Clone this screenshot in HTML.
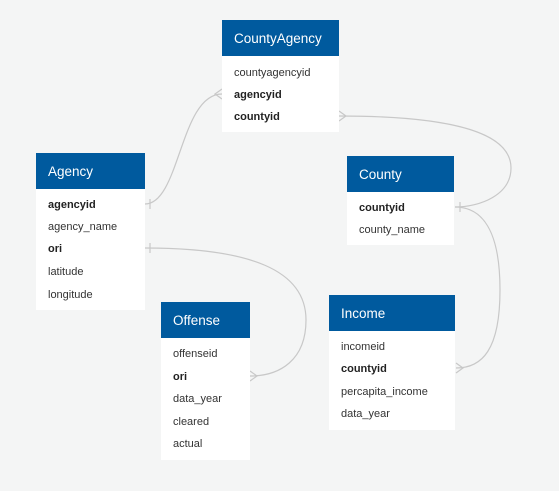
<!DOCTYPE html>
<html><head><meta charset="utf-8"><style>
body{margin:0;width:559px;height:491px;background:#f4f5f5;position:relative;overflow:hidden;font-family:"Liberation Sans",Arial,sans-serif}
.t{position:absolute;background:#fff}
.h{background:#005a9e;color:#fff;font-size:13.5px;height:36px;line-height:37px;padding-left:12px;box-sizing:border-box}
.r{position:absolute;left:12px;font-size:11px;color:#333;line-height:14px;margin-top:1px}
.b{font-weight:bold;color:#222}
svg{position:absolute;left:0;top:0}
</style></head><body>
<svg width="559" height="491" fill="none" stroke="#c8c8c8" stroke-width="1.2">
<path d="M145,204 C180,204 180,94 222,94"/>
<path d="M339,116 C460,116 511,135 511,168 C511,195 480,207 455,207"/>
<path d="M455,207 C482,207 500,230 500,290 C500,350 482,368 456,368"/>
<path d="M145,248 C250,248 306,270 306,320 C306,360 280,376 250,376"/>
<path d="M150,199 V209 M150,243 V253 M460,202 V212"/>
<path d="M222,89 L215,94 L222,99 M339,111 L346,116 L339,121 M250,371 L257,376 L250,381 M456,363 L463,368 L456,373"/>
</svg>
<div class="t" style="left:222px;top:20px;width:117px;height:112px"><div class="h">CountyAgency</div>
<div class="r" style="top:45px">countyagencyid</div><div class="r b" style="top:67px">agencyid</div><div class="r b" style="top:89px">countyid</div></div>
<div class="t" style="left:36px;top:153px;width:109px;height:157px"><div class="h">Agency</div>
<div class="r b" style="top:44px">agencyid</div><div class="r" style="top:66px">agency_name</div><div class="r b" style="top:88px">ori</div><div class="r" style="top:111px">latitude</div><div class="r" style="top:134px">longitude</div></div>
<div class="t" style="left:347px;top:156px;width:107px;height:89px"><div class="h">County</div>
<div class="r b" style="top:44px">countyid</div><div class="r" style="top:66px">county_name</div></div>
<div class="t" style="left:329px;top:295px;width:126px;height:135px"><div class="h">Income</div>
<div class="r" style="top:44px">incomeid</div><div class="r b" style="top:66px">countyid</div><div class="r" style="top:89px">percapita_income</div><div class="r" style="top:111px">data_year</div></div>
<div class="t" style="left:161px;top:302px;width:89px;height:158px"><div class="h">Offense</div>
<div class="r" style="top:44px">offenseid</div><div class="r b" style="top:67px">ori</div><div class="r" style="top:89px">data_year</div><div class="r" style="top:112px">cleared</div><div class="r" style="top:134px">actual</div></div>
</body></html>
